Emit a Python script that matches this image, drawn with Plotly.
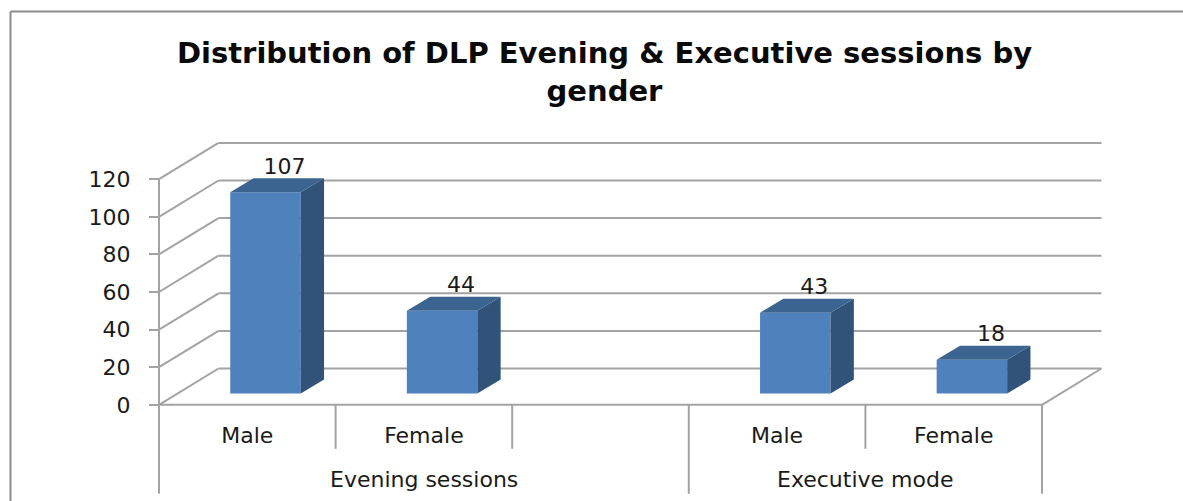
import plotly.graph_objects as go

# ---- data ----
groups = ["Evening sessions", "Executive mode"]
group_spans = [(0, 3), (3, 5)]
categories = ["Male", "Female", "Male", "Female"]
slots = [0, 1, 3, 4]
values = [107, 44, 43, 18]
y_ticks = [0, 20, 40, 60, 80, 100, 120]
title_text = "Distribution of DLP Evening & Executive sessions by<br>gender"

# ---- page geometry (pixels) and axis scale ----
W, H = 1183, 501
X0_PX, SLOT_PX = 159.0, 176.6      # left of floor front edge; width of a category slot
Y0_PX, UNIT_PX = 404.8, 1.88       # pixel row of value 0; pixels per value unit
N_SLOTS = 5

xr = [-X0_PX / SLOT_PX, (W - X0_PX) / SLOT_PX]
yr = [-(H - Y0_PX) / UNIT_PX, Y0_PX / UNIT_PX]

def sx(px): return px / SLOT_PX
def sy(px): return px / UNIT_PX

WALL_DX, WALL_DY = sx(59.5), sy(36.3)   # depth of the chart box
BAR_DX, BAR_DY = sx(23.3), sy(14)       # depth of a bar
BAR_W = sx(70.5)
BAR_SHIFT = sx(18.2)
BAR_LIFT = sy(11.3)
LABEL_DX, LABEL_DY = sx(19), sy(24)

GRID = "#a3a3a3"
FRAME = "#8c8c8c"
FRONT, TOP, SIDE = "#4f81bd", "#3b6491", "#315279"
TEXT = "#1a1a1a"
FONT = "DejaVu Sans"
FS = 22

shapes = []
def seg(x0, y0, x1, y1, color=GRID, width=2):
    shapes.append(dict(type="line", xref="x", yref="y", x0=x0, y0=y0, x1=x1, y1=y1,
                       layer="below", line=dict(color=color, width=width)))

# back wall gridlines and side-wall gridlines
for v in y_ticks:
    seg(0, v, WALL_DX, v + WALL_DY)
    seg(WALL_DX, v + WALL_DY, N_SLOTS + WALL_DX, v + WALL_DY)
# left axis, floor front and right floor edge
seg(0, 0, 0, y_ticks[-1])
seg(0, 0, N_SLOTS, 0)
seg(N_SLOTS, 0, N_SLOTS + WALL_DX, WALL_DY)
# category dividers below the floor
SHORT, LONG = sy(44), sy(89)
for s in [1, 2, 4]:
    seg(s, 0, s, -SHORT)
for s in [0, 3, 5]:
    seg(s, 0, s, -LONG)
# outer chart frame (open at right and bottom)
for x0, y0, x1, y1 in [(10.5 / W, 0, 10.5 / W, 1 - 11.5 / H), (10.5 / W, 1 - 11.5 / H, 1, 1 - 11.5 / H)]:
    shapes.append(dict(type="line", xref="paper", yref="paper", x0=x0, y0=y0, x1=x1, y1=y1,
                       layer="below", line=dict(color=FRAME, width=2)))

fig = go.Figure()

centers = [s + 0.5 + BAR_SHIFT for s in slots]

# front faces
fig.add_trace(go.Bar(x=centers, y=values, base=BAR_LIFT, width=BAR_W,
                     marker=dict(color=FRONT, line=dict(width=0)),
                     hoverinfo="y", showlegend=False))

# side and top faces, derived from the same values
for c, v in zip(centers, values):
    l, r = c - BAR_W / 2, c + BAR_W / 2
    b, t = BAR_LIFT, BAR_LIFT + v
    fig.add_trace(go.Scatter(x=[r, r + BAR_DX, r + BAR_DX, r, r],
                             y=[b, b + BAR_DY, t + BAR_DY, t, b],
                             mode="lines", fill="toself", fillcolor=SIDE,
                             line=dict(width=0, color=SIDE), hoverinfo="skip", showlegend=False))
    fig.add_trace(go.Scatter(x=[l, r, r + BAR_DX, l + BAR_DX, l],
                             y=[t, t, t + BAR_DY, t + BAR_DY, t],
                             mode="lines", fill="toself", fillcolor=TOP,
                             line=dict(width=0, color=TOP), hoverinfo="skip", showlegend=False))

# value labels
fig.add_trace(go.Scatter(x=[c + LABEL_DX for c in centers],
                         y=[BAR_LIFT + v + LABEL_DY for v in values],
                         text=[str(v) for v in values], mode="text", textposition="middle center",
                         textfont=dict(family=FONT, size=FS, color=TEXT),
                         hoverinfo="skip", showlegend=False))

annotations = [
    dict(text=g, x=(a + b) / 2, y=sy(-74.5), xref="x", yref="y", showarrow=False,
         xanchor="center", yanchor="middle",
         font=dict(family=FONT, size=FS, color=TEXT))
    for g, (a, b) in zip(groups, group_spans)
]

fig.update_layout(
    width=W, height=H, margin=dict(l=0, r=0, t=0, b=0),
    paper_bgcolor="white", plot_bgcolor="white", showlegend=False,
    title=dict(text=title_text, x=604.5 / W, xanchor="center", y=1 - 63 / H, yanchor="top",
               font=dict(family="DejaVu Sans", size=29, color="#0a0a0a", weight="bold")),
    shapes=shapes, annotations=annotations,
    xaxis=dict(range=xr, showgrid=False, zeroline=False, showline=False,
               tickmode="array", tickvals=[s + 0.5 for s in slots], ticktext=categories,
               ticks="", anchor="free", position=(H - Y0_PX) / H, ticklabelstandoff=15,
               tickfont=dict(family=FONT, size=FS, color=TEXT), fixedrange=True),
    yaxis=dict(range=yr, showgrid=False, zeroline=False, showline=False,
               tickmode="array", tickvals=y_ticks, ticks="outside", ticklen=10,
               tickwidth=2, tickcolor=GRID, anchor="free", position=X0_PX / W,
               ticklabelstandoff=14,
               tickfont=dict(family=FONT, size=FS, color=TEXT), fixedrange=True),
)

fig.write_html("out.html", config=dict(displayModeBar=False),
               post_script="document.body.style.margin='0';")
